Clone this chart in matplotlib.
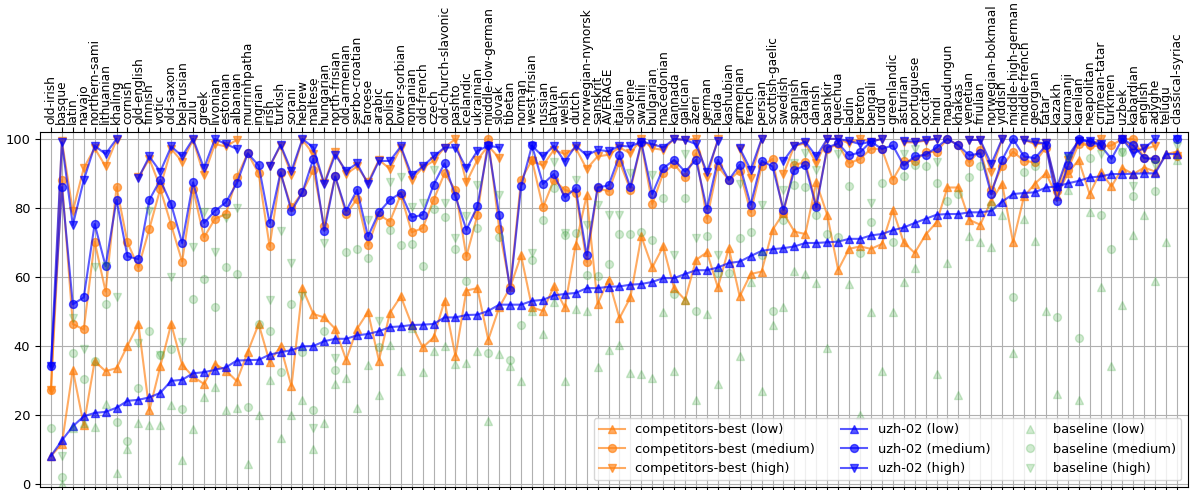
import numpy as np
import matplotlib
matplotlib.use("Agg")
import matplotlib.pyplot as plt

nan = np.nan

languages = ["old-irish", "basque", "latin", "navajo", "northern-sami", "lithuanian", "khaling",
             "cornish", "old-english", "finnish", "votic", "old-saxon", "belarusian", "zulu", "greek",
             "livonian", "estonian", "albanian", "murrinhpatha", "ingrian", "irish", "turkish", "sorani",
             "hebrew", "maltese", "hungarian", "north-frisian", "old-armenian", "serbo-croatian",
             "faroese", "arabic", "polish", "lower-sorbian", "romanian", "old-french", "czech",
             "old-church-slavonic", "pashto", "icelandic", "ukrainian", "middle-low-german", "slovak",
             "tibetan", "norman", "west-frisian", "russian", "latvian", "welsh", "dutch",
             "norwegian-nynorsk", "sanskrit", "AVERAGE", "italian", "slovene", "swahili", "bulgarian",
             "macedonian", "kannada", "galician", "azeri", "german", "haida", "kashubian", "armenian",
             "french", "persian", "scottish-gaelic", "swedish", "spanish", "catalan", "danish",
             "bashkir", "quechua", "ladin", "breton", "bengali", "urdu", "greenlandic", "asturian",
             "portuguese", "occitan", "hindi", "mapudungun", "khakas", "venetian", "friulian",
             "norwegian-bokmaal", "yiddish", "middle-high-german", "middle-french", "georgian",
             "tatar", "kazakh", "kurmanji", "karelian", "neapolitan", "crimean-tatar", "turkmen",
             "uzbek", "kabardian", "english", "adyghe", "telugu", "classical-syriac"]

uzh_low = [8, 12.5, 16.6, 19.5, 20.5, 20.8, 22, 24, 24.3, 25, 26.3, 29.8, 30.1, 32, 32.3, 33, 33.7,
           35.7, 35.8, 35.9, 37.4, 38.1, 38.7, 39.8, 39.9, 41.3, 42, 42, 43, 43.4, 44.2, 45.4, 45.6,
           46, 46.1, 46.3, 48.2, 48.2, 48.9, 49, 50.1, 51.9, 51.9, 51.9, 53, 53.3, 54.6, 55, 55.3,
           56.7, 56.7, 57.1, 57.2, 57.7, 57.9, 58.5, 59.6, 59.6, 60.8, 61.9, 61.9, 62.7, 64, 64.4,
           66, 67.5, 68, 68.3, 68.8, 69.8, 69.8, 70, 70.2, 71, 71, 72, 72.4, 73.5, 74.3, 75.6, 76.8,
           78, 78.2, 78.2, 78.7, 78.7, 79.1, 81.8, 84, 84.3, 84.5, 85.9, 86.2, 87.1, 87.8, 88.8,
           89.1, 89.8, 89.8, 89.9, 90, 90, 95.6, 95.6]
uzh_medium = [34, 86, 52, 54, 75.3, 63.1, 82.3, 65.9, 65.1, 82.3, 88.1, 81, 69.8, 87.4, 75.6, 79.1,
              81.6, 87.1, 95.8, 92.3, 75.6, 90.3, 79.1, 84.5, 94.2, 73.3, 89.1, 79.1, 85.2, 71.7,
              78.7, 82.3, 84.3, 77.2, 78, 86.7, 92.9, 83.3, 73.6, 80.4, 98.1, 78, 56.2, 86.2, 98.1,
              86.9, 89.8, 83, 85.7, 66.2, 85.9, 86.5, 95.2, 85.9, 99, 84, 91.5, 93.9, 90.5, 93.9,
              79.7, 93.9, 88.1, 92.5, 80.9, 93.6, 92, 79.4, 91, 92.3, 80.1, 97.5, 98.7, 95.2, 96.1,
              99.2, 97.1, 98.1, 92.3, 94.9, 95.4, 97.5, 100, 98.1, 95.2, 95.8, 84, 93.9, 100, 94.9,
              94.4, 98.1, 82, 92.3, 100, 99.2, 98.1, 94.2, 100, 98.1, 94.4, 94.2, nan, 100]
uzh_high = [34, 99, 75, 88, 98, 95.6, 100, nan, 88.6, 94.9, 90.5, 97.8, 95, 100, 91.5, 100, 98.5,
            97.1, nan, nan, 92, 98.3, 90.7, 100, 97.5, 86.9, 95.4, 90.7, 92.9, 86.9, 93.6, 93.6,
            97.8, 89.4, 92, 94.9, 97.5, 97.5, 91.5, 96.5, 98, 97.5, nan, nan, 98, 94.9, 98, 93.4,
            98, 95.2, 96.8, 96.4, 98, 97.8, 99.2, 98.5, 97.5, 100, 99.7, 98.5, 90.3, 99.4, nan,
            97.3, 91, 100, nan, 93.6, 98, 99.2, 94.9, 100, 100, 99.4, 98.5, 99.2, 100, nan, 99.4,
            99.2, 99.7, 100, nan, nan, 99.7, 99.7, 92.7, 100, nan, 99.7, 99, 98.7, 85.9, 94.9, 99.5,
            99.4, 98.5, nan, 100, 95.8, 97.3, 100, nan, 100]

comp_low = [8, 11.5, 33, 17, 35.5, 32.6, 33.5, 40, 46.3, 21.2, 34, 46.3, 34.5, 31, 28.9, 34.7, 32.8,
            29.7, 38.2, 46.3, 35.3, 39.8, 28.2, 56.7, 49.2, 48.2, 44.9, 35.9, 44.9, 49.8, 35.7, 49.5,
            54.3, 46.1, 39.5, 42.4, 53, 36.9, 56, 56.7, 41.7, 51.1, 56.9, 66.2, 51.1, 50.1, 57.2,
            51.1, 69.3, 83.6, 52.1, 59.2, 48, 54, 71.7, 62.7, 68.8, 56.7, 53.3, 64.9, 67.1, 56.9,
            68.3, 54.3, 60.8, 61.5, 73.6, 78.5, 73.1, 72.4, 87.4, 78, 62, 68.1, 68.8, 68.1, 69.5,
            79.4, 70, 66.9, 72.2, 75.8, 85.9, 85.9, 76.5, 75.1, 82, 87, 70, 83.3, 87, 90, 83.5, 90,
            93.9, 84, 90.5, 86.2, 91.5, 89.8, 91.7, 90.5, 95.6, 96.3]
comp_medium = [27, 88, 46.3, 44.7, 70.2, 55.7, 86, 70, 62.7, 73.9, 85.5, 75, 64.4, 85.5, 71.4, 76.8,
               78.2, 88.8, 95.8, 90, 68.8, 90, 80.1, 84.5, 91, 74.6, 89.1, 78.2, 82.6, 69.1, 78, 76,
               83.8, 72.9, 74.1, 82.3, 90, 85.2, 65.9, 77.8, 100, 73.9, 56.9, 88.1, 93.9, 80.1, 88.1,
               85.2, 84.3, 64.3, 85.7, 84.8, 93.4, 85.2, 98.7, 81.1, 90, 92.7, 88.8, 95.8, 76.8, 92,
               88.1, 90.7, 78.7, 92, 94.2, 78.5, 92.5, 93.2, 80.9, 97.1, 98.5, 92.9, 94.2, 97.1, 97.1,
               88.2, 93.6, 93.6, 96.1, 96.3, 100, 98.1, 93.2, 96.9, 85.2, 92, 96.3, 93.6, 93.2, 97.5,
               85, 91, 98.5, 98.1, 97.8, 98.1, 100, 100, 94.4, 94.2, nan, 95]
comp_high = [27, 99.5, 79, 91.5, 97.3, 92, 99.7, nan, 88.8, 94.2, 86, 97.1, 93.4, 99.7, 89.4, 98.5,
             97.8, 99.7, nan, nan, 92, 98, 89.6, 99.7, 95.6, 87.1, 96.3, 89.8, 92, 87.4, 93.9, 91.3,
             97.5, 88.1, 91.7, 93.6, 97.5, 100, 87.4, 93.9, 98, 94.4, nan, nan, 93.6, 92.3, 96.8,
             95.6, 97.3, 91.3, 94.9, 95.4, 97.5, 95.8, 100, 97.3, 96.8, 100, 99.7, 100, 88.8, 100,
             nan, 97.1, 88.6, 100, nan, 89.8, 98, 98.7, 92.9, 100, 100, 98.7, 100, 99.2, 100, nan,
             99, 99, 99.5, 100, nan, nan, 99.7, 99.7, 90.5, 100, nan, 99.7, 98.5, 98.7, 85, 94,
             99.5, 98, 100, nan, 100, 97, 97, 98, nan, 95]

base_low = [nan, 0, 16, 17.5, 16.3, 23, 3, 10, 17.6, 17, 17, 22.7, 6.7, 15.7, 25, 27.9, 21.4, 21.9,
            5.8, 20, 30.1, 13.2, 19.8, 24.3, 9.9, 17.6, 28.9, 30.6, 21.9, 34.3, 25.6, 40.3, 32.6, 45,
            32.4, 38.4, 39.8, 34.7, 35, 38.6, 18.1, 37.6, 34, 29.9, 50, 43.4, 52.7, 29.9, 50.7, 50.1,
            33.7, 38.8, 40.3, 32.1, 31.8, 30.6, 49.8, 32.8, 53.3, 24.1, 49.2, 28.9, nan, 36.9, 58.6,
            26.8, 46.1, 51.1, 61.7, 60.8, 58.2, 39.3, nan, 57.9, 19.8, 49.8, 32.6, 49.8, 58.5, 62.5,
            nan, 31.8, 64, 25.8, 71.7, 70, 68.5, 78, 37.9, 76.8, 70.5, 50, 26, 85.2, 24.1, 78.9,
            56.9, 34, 51.9, 72, 77.8, 58.8, 70, 93.9]
base_medium = [16, 2, 38, 30.4, 35.5, 52, 18, 12.3, 27.7, 44.3, 37.4, 39, 21.7, 53.6, 59.4, 51.1,
               62.7, 60.8, 22.1, 46.3, 44.2, 32.4, 52.1, 38.2, 21.2, 44.3, 33, 67.3, 68.1, 65.4,
               39.5, 73.6, 69.1, 69.5, 63, 79.7, 77.2, 68.1, 58.8, 74.1, 37.9, 71.4, 35.9, 46.1,
               64.9, 76.5, 85.7, 72, 72.7, 60.6, 60.1, 63.7, 72.4, 72.4, 73.1, 70.7, 82.8, 55, 82.8,
               50.1, 71.7, 61, 61, 71.2, 73.1, 66.4, 50.1, 76.5, 86.7, 85.9, 77.8, 72.4, 71.4, 86.2,
               66.9, 76, 87.1, 70.2, 89.1, 92.3, 92, 87.1, 82, 84, 88.8, 92, 80.9, nan, 54, 90.3, 92,
               nan, 48.2, nan, 42.2, 94.4, 78, 68.1, 96.3, 83.3, nan, 84.9, nan, nan]
base_high = [nan, 8, 48, 39, 62.7, 63, 54, nan, 40.8, 79, 37.4, 60, 41, 68.5, 78.7, 67.3, 77, 79.9,
             nan, nan, 53.3, 73.3, 64, 54.3, 16.1, 69.8, 36.4, nan, nan, 76.5, 47.2, 87.4, 88.8,
             80.1, 81.4, 91, 81.4, 71.2, 77.5, 86.5, nan, 83.6, nan, nan, 66.9, nan, 93.2, 72.7,
             88.1, 75.1, 80.7, 77.8, 77.8, 90, nan, 89.4, nan, 66.4, 95.6, 71.2, nan, 66.4, nan,
             86.9, nan, 80.9, nan, 85.2, 93, 95.8, 91, nan, 95.6, nan, nan, 81.4, nan, nan, 95.6,
             97.1, nan, 93.2, nan, nan, nan, nan, nan, nan, nan, nan, nan, nan, nan, 94.4, nan,
             nan, 95.6, nan, 96.3, 86.2, nan, 92.5, nan, 97.8]

x = np.arange(len(languages))

plt.rcParams["font.size"] = 9.4

fig = plt.figure(figsize=(11.92, 4.90), dpi=100)
ax = fig.add_axes([40 / 1192, 1 - 487 / 490, 1148 / 1192, (487 - 132) / 490])

orange = "tab:orange"
blue = "blue"
green = "tab:green"
ms = 5.7

ax.plot(x, comp_low, marker="^", ms=ms, color=orange, alpha=0.65, label="competitors-best (low)")
ax.plot(x, comp_medium, marker="o", ms=ms, color=orange, alpha=0.65, label="competitors-best (medium)")
ax.plot(x, comp_high, marker="v", ms=ms, color=orange, alpha=0.65, label="competitors-best (high)")
ax.plot(x, uzh_low, marker="^", ms=ms, color=blue, alpha=0.65, label="uzh-02 (low)")
ax.plot(x, uzh_medium, marker="o", ms=ms, color=blue, alpha=0.65, label="uzh-02 (medium)")
ax.plot(x, uzh_high, marker="v", ms=ms, color=blue, alpha=0.65, label="uzh-02 (high)")
ax.plot(x, base_low, marker="^", ms=ms, linestyle="none", color=green, alpha=0.22, label="baseline (low)")
ax.plot(x, base_medium, marker="o", ms=ms, linestyle="none", color=green, alpha=0.22, label="baseline (medium)")
ax.plot(x, base_high, marker="v", ms=ms, linestyle="none", color=green, alpha=0.22, label="baseline (high)")

ax.set_xlim(-1, len(languages))
ax.set_ylim(-1, 102)
ax.set_xticks(x)
ax.set_xticklabels(languages, rotation=90, fontsize=8.7)
ax.tick_params(axis="x", top=True, bottom=True, labeltop=True, labelbottom=False, pad=2.5)
ax.set_yticks([0, 20, 40, 60, 80, 100])
ax.grid(True, color="#b0b0b0", linewidth=0.8)
ax.set_axisbelow(True)
ax.legend(loc="lower right", ncol=3, fontsize=9.4)

fig.savefig("out.png", dpi=100)
